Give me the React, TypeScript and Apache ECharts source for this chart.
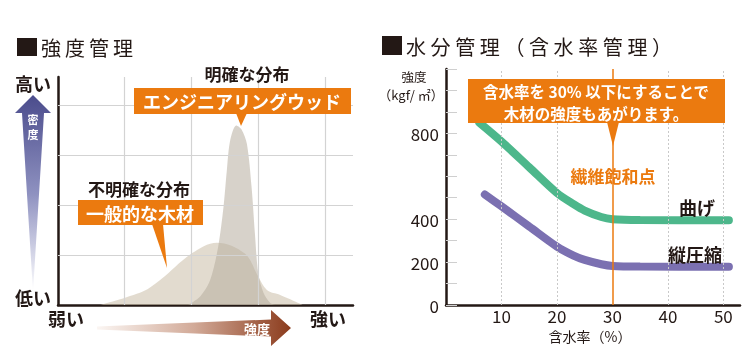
import React, { useEffect, useRef } from 'react';
import * as echarts from 'echarts';

// ---- Left chart: strength distribution (relative units) ----
const broadX = [0.63, 1.27, 1.53, 2.0, 2.38, 2.8, 3.0, 3.13, 3.33, 3.67];
const broadY = [0, 0.27, 0.5, 1.03, 1.25, 1.03, 0.57, 0.3, 0.2, 0];
const narrowX = [1.95, 2.13, 2.28, 2.4, 2.48, 2.53, 2.58, 2.67, 2.75, 2.83, 2.9, 2.95, 3.0, 3.08, 3.18, 3.25];
const narrowY = [0, 0.17, 0.5, 1.17, 1.97, 2.7, 3.3, 3.6, 3.52, 3.23, 2.37, 1.44, 0.64, 0.24, 0.04, 0];
const leftGridX = [1, 2, 3, 4];
const leftGridY = [1, 2, 3, 4];

// ---- Right chart: moisture content vs strength ----
const bendX = [6, 10, 15, 20, 23, 25, 28, 30, 35, 51];
const bendY = [850, 762, 642, 522, 470, 440, 410, 400, 396, 395];
const compX = [7, 10, 15, 20, 23, 25, 28, 30, 35, 51];
const compY = [515, 460, 366, 272, 230, 210, 190, 182, 179, 178];
const fiberSaturation = 30;
const rightGridX = [10, 20, 40, 50];
const xTickLabels = [10, 20, 30, 40, 50];
const yTickLabels = [0, 200, 400, 800];

const FONT = '"Noto Sans CJK JP", "Noto Sans", sans-serif';
const INK = '#231815';
const ORANGE = '#eb7a0f';

function spaced(chars: string[], x0: number, y: number, pitch: number, size: number) {
  return chars.map((c, i) => ({
    type: 'text',
    x: x0 + i * pitch,
    y,
    z: 100,
    style: { text: c, fill: INK, fontSize: size, fontFamily: FONT, fontWeight: 'normal', align: 'left', verticalAlign: 'middle' },
  }));
}

function txt(text: string, x: number, y: number, size: number, fill: string, weight: any = 'bold', align = 'center') {
  return {
    type: 'text',
    x,
    y,
    z: 110,
    style: { text, fill, fontSize: size, fontFamily: FONT, fontWeight: weight, align, verticalAlign: 'middle' },
  };
}

export default function App() {
  const ref = useRef<HTMLDivElement>(null);
  useEffect(() => {
    if (!ref.current) return;
    const chart = echarts.init(ref.current, null, { renderer: 'svg' });
    const pair = (xs: number[], ys: number[]) => xs.map((x, i) => [x, ys[i]]);

    const option: any = {
      animation: false,
      grid: [
        { left: 58, right: 397, top: 77, bottom: 55 },
        { left: 446, right: 10, top: 69, bottom: 55 },
      ],
      xAxis: [
        {
          gridIndex: 0, type: 'value', min: 0, max: 4.42,
          axisLine: { show: true, lineStyle: { color: INK, width: 2.5 } },
          axisTick: { show: false }, axisLabel: { show: false }, splitLine: { show: false },
        },
        {
          gridIndex: 1, type: 'value', min: 0, max: 53, interval: 10,
          axisLine: { show: true, lineStyle: { color: INK, width: 2.5 } },
          axisTick: { show: false },
          axisLabel: {
            margin: 2, color: INK, fontSize: 17, lineHeight: 17, fontFamily: FONT,
            formatter: (v: number) => (xTickLabels.includes(v) ? String(v) : ''),
          },
          splitLine: { show: false },
        },
      ],
      yAxis: [
        {
          gridIndex: 0, type: 'value', min: 0, max: 4.57,
          axisLine: { show: true, lineStyle: { color: INK, width: 2.5 } },
          axisTick: { show: false }, axisLabel: { show: false }, splitLine: { show: false },
        },
        {
          gridIndex: 1, type: 'value', min: 0, max: 1100, interval: 100,
          axisLine: { show: true, lineStyle: { color: INK, width: 2.5 } },
          axisTick: { show: true, inside: true, length: 11, lineStyle: { color: '#cfcfcf', width: 1 } },
          axisLabel: {
            margin: 7, color: INK, fontSize: 17, fontFamily: FONT,
            formatter: (v: number) => (yTickLabels.includes(v) ? String(v) : ''),
          },
          splitLine: { show: false },
        },
      ],
      series: [
        {
          type: 'line', xAxisIndex: 0, yAxisIndex: 0, data: [], z: 1, silent: true,
          markLine: {
            silent: true, symbol: ['none', 'none'], label: { show: false },
            lineStyle: { color: '#d3d3d3', width: 1.2, type: 'solid' },
            data: [...leftGridX.map((v) => ({ xAxis: v })), ...leftGridY.map((v) => ({ yAxis: v }))],
          },
        },
        {
          name: '一般的な木材', type: 'line', xAxisIndex: 0, yAxisIndex: 0, z: 2,
          data: pair(broadX, broadY), smooth: 0.35, symbol: 'none',
          lineStyle: { width: 0 },
          areaStyle: { color: 'rgb(203,190,168)', opacity: 0.55 },
        },
        {
          name: 'エンジニアリングウッド', type: 'line', xAxisIndex: 0, yAxisIndex: 0, z: 3,
          data: pair(narrowX, narrowY), smooth: 0.3, symbol: 'none',
          lineStyle: { width: 0 },
          areaStyle: { color: 'rgb(182,173,159)', opacity: 0.55 },
        },
        {
          type: 'line', xAxisIndex: 1, yAxisIndex: 1, data: [], z: 1, silent: true,
          markLine: {
            silent: true, symbol: ['none', 'none'], label: { show: false },
            lineStyle: { color: '#c9c9c9', width: 1, type: [2, 2] },
            data: rightGridX.map((v) => ({ xAxis: v })),
          },
        },
        {
          type: 'line', xAxisIndex: 1, yAxisIndex: 1, data: [], z: 2, silent: true,
          markLine: {
            silent: true, symbol: ['none', 'none'], label: { show: false },
            lineStyle: { color: ORANGE, width: 1.5, type: 'solid' },
            data: [{ xAxis: fiberSaturation }],
          },
        },
        {
          name: '曲げ', type: 'line', xAxisIndex: 1, yAxisIndex: 1, z: 4,
          data: pair(bendX, bendY), smooth: 0.3, symbol: 'none',
          lineStyle: { width: 8, color: '#4db78b', cap: 'round' },
        },
        {
          name: '縦圧縮', type: 'line', xAxisIndex: 1, yAxisIndex: 1, z: 4,
          data: pair(compX, compY), smooth: 0.3, symbol: 'none',
          lineStyle: { width: 8, color: '#7b70b1', cap: 'round' },
        },
      ],
      graphic: {
        elements: [
          // titles
          { type: 'rect', z: 100, shape: { x: 17, y: 38, width: 20, height: 18 }, style: { fill: INK } },
          ...spaced(['強', '度', '管', '理'], 41, 47, 24, 20),
          { type: 'rect', z: 100, shape: { x: 382, y: 36, width: 20, height: 19 }, style: { fill: INK } },
          ...spaced(['水', '分', '管', '理', '（', '含', '水', '率', '管', '理', '）'], 406, 46, 24.6, 20),

          // left: vertical density arrow
          {
            type: 'polygon', z: 100,
            shape: { points: [[33, 95], [51, 113], [44, 113], [33, 292], [22, 113], [15, 113]] },
            style: {
              fill: new echarts.graphic.LinearGradient(0, 0, 0, 1, [
                { offset: 0, color: '#4b4c8c' },
                { offset: 0.5, color: '#8e91c0' },
                { offset: 1, color: '#ffffff' },
              ]),
            },
          },
          txt('密', 33, 118.5, 11, '#ffffff'),
          txt('度', 33, 133.5, 11, '#ffffff'),
          txt('高い', 15, 83, 18, INK, 'bold', 'left'),
          txt('低い', 15, 297, 18, INK, 'bold', 'left'),

          // left: horizontal strength arrow
          {
            type: 'polygon', z: 100,
            shape: { points: [[97, 326.5], [271, 319.5], [271, 310], [291, 328], [271, 346], [271, 336.5], [97, 329.5]] },
            style: {
              fill: new echarts.graphic.LinearGradient(0, 0, 1, 0, [
                { offset: 0, color: '#fbf6f3' },
                { offset: 0.5, color: '#d2aa98' },
                { offset: 1, color: '#8b3b1c' },
              ]),
            },
          },
          txt('強度', 257, 328, 13, '#ffffff'),
          txt('弱い', 48, 318, 18, INK, 'bold', 'left'),
          txt('強い', 310, 318, 18, INK, 'bold', 'left'),

          // left: annotations
          txt('明確な分布', 247, 73, 17, INK),
          { type: 'rect', z: 105, shape: { x: 134, y: 88, width: 217, height: 26 }, style: { fill: ORANGE } },
          { type: 'polygon', z: 105, shape: { points: [[236, 113], [247, 113], [241, 126]] }, style: { fill: ORANGE } },
          txt('エンジニアリングウッド', 242, 101, 18, '#ffffff'),

          txt('不明確な分布', 139, 188, 17, INK),
          { type: 'rect', z: 105, shape: { x: 78, y: 200, width: 125, height: 25 }, style: { fill: ORANGE } },
          { type: 'polygon', z: 105, shape: { points: [[152, 224], [163, 224], [167, 268]] }, style: { fill: ORANGE } },
          txt('一般的な木材', 140, 212.5, 18, '#ffffff'),

          // right: axis names
          txt('強度', 414, 76.5, 12.5, INK, 'normal'),
          txt('（kgf/ ㎡）', 411, 94.5, 13, INK, 'normal'),
          txt('含水率（%）', 590, 336, 14, INK, 'normal'),

          // right: annotations
          { type: 'rect', z: 105, shape: { x: 468, y: 79, width: 257, height: 44 }, style: { fill: ORANGE } },
          { type: 'polygon', z: 105, shape: { points: [[607, 122], [619, 122], [613, 146]] }, style: { fill: ORANGE } },
          txt('含水率を 30% 以下にすることで', 596, 91, 15.5, '#ffffff'),
          txt('木材の強度もあがります。', 596, 112.5, 15.5, '#ffffff'),
          txt('繊維飽和点', 613, 175, 17, ORANGE),
          txt('曲げ', 697, 207, 18, INK),
          txt('縦圧縮', 695, 254, 18, INK),
        ],
      },
    };
    chart.setOption(option);
    return () => chart.dispose();
  }, []);
  return <div ref={ref} style={{ position: 'fixed', left: 0, top: 0, width: 750, height: 360 }} />;
}
